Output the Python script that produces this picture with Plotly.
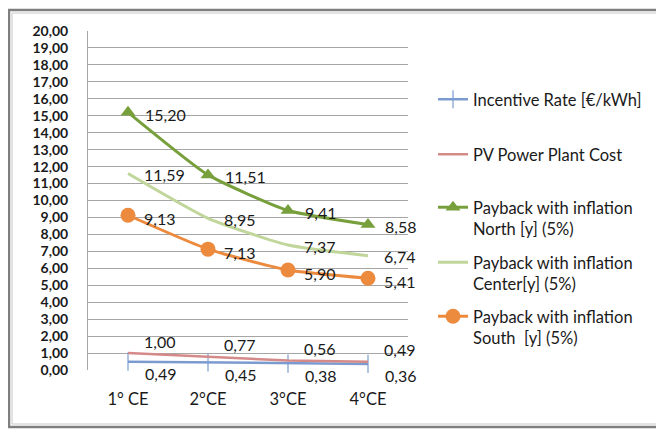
import plotly.graph_objects as go

categories = ["1° CE", "2°CE", "3°CE", "4°CE"]
incentive_rate = [0.49, 0.45, 0.38, 0.36]
pv_cost = [1.00, 0.77, 0.56, 0.49]
payback_north = [15.20, 11.51, 9.41, 8.58]
payback_center = [11.59, 8.95, 7.37, 6.74]
payback_south = [9.13, 7.13, 5.90, 5.41]
y_ticks = list(range(0, 21))

names = [
    "Incentive Rate [€/kWh]",
    "PV Power Plant Cost",
    "Payback with inflation<br>North [y] (5%)",
    "Payback with inflation<br>Center[y] (5%)",
    "Payback with inflation<br>South  [y] (5%)",
]

FONT = "Lato"
TXT = "#1a1a1a"
LBL = 16

series = [
    # values, name, legend, line, marker, label (xshift, yshift)
    (incentive_rate, names[0], "legend",
     dict(color="#7b9bd0", width=2.5),
     dict(symbol="line-ns", size=13, line=dict(color="#7b9bd0", width=1.2)), (15, -12)),
    (pv_cost, names[1], "legend2",
     dict(color="#d48a88", width=2.5), None, (14, 12)),
    (payback_north, names[2], "legend3",
     dict(color="#77a03c", width=3, shape="spline", smoothing=0.5),
     dict(symbol="triangle-up", size=13, color="#77a03c"), (15, -2)),
    (payback_center, names[3], "legend4",
     dict(color="#c0d69a", width=3, shape="spline", smoothing=0.5), None, (14, -1)),
    (payback_south, names[4], "legend5",
     dict(color="#ec8a3e", width=3, shape="spline", smoothing=0.5),
     dict(symbol="circle", size=15, color="#ec8a3e"), (14, -3)),
]

fig = go.Figure()
annotations = []
for vals, name, leg, line, marker, (dx, dy) in series:
    fig.add_trace(go.Scatter(
        x=categories, y=vals, name=name, legend=leg,
        mode="lines+markers" if marker else "lines",
        line=line, marker=marker, cliponaxis=False,
    ))
    for c, v in zip(categories, vals):
        annotations.append(dict(
            x=c, y=v, xref="x", yref="y", text=f"{v:.2f}".replace(".", ","),
            showarrow=False, xanchor="left", yanchor="middle",
            xshift=dx, yshift=dy,
            font=dict(family=FONT, size=LBL, color=TXT),
        ))

# page body has an 8px margin, so work in reference pixels shifted by 8
OFF = 8
W, H = 664 - OFF, 429 - OFF
PL, PR, PT, PB = 88, 408, 31, 370  # plot area in reference pixels
L, T = PL - OFF, PT - OFF
R, B = W - (PR - OFF), H - (PB - OFF)
pw, ph = PR - PL, PB - PT

def px2x(px):
    return (px - PL) / pw

def px2y(py):
    return (PB - py) / ph

legend_common = dict(
    x=px2x(433), xanchor="left", yanchor="top", valign="top",
    font=dict(family=FONT, size=16.5, color=TXT), bgcolor="rgba(0,0,0,0)",
    itemwidth=30, tracegroupgap=0,
)
legend_tops = [82, 137, 190, 245, 299]
layout_legends = {}
for i, top in enumerate(legend_tops):
    key = "legend" if i == 0 else f"legend{i+1}"
    layout_legends[key] = dict(legend_common, y=px2y(top))

fig.update_layout(
    width=W, height=H,
    margin=dict(l=L, r=R, t=T, b=B, autoexpand=False),
    paper_bgcolor="white", plot_bgcolor="white",
    separators=",.",
    showlegend=True,
    annotations=annotations,
    xaxis=dict(
        type="category", range=[-0.5, 3.5],
        showgrid=False, showline=False, zeroline=False, ticks="",
        tickfont=dict(family=FONT, size=16.5, color=TXT),
        ticklabelstandoff=17,
    ),
    yaxis=dict(
        range=[0, 20], tickvals=y_ticks, tickformat=".2f",
        showgrid=True, gridcolor="#a6a6a6", gridwidth=1,
        showline=True, linecolor="#a6a6a6", linewidth=1,
        zeroline=False, ticks="",
        tickfont=dict(family=FONT, size=14, color=TXT, weight="bold"),
        ticklabelstandoff=16,
    ),
    shapes=[
        dict(type="rect", xref="paper", yref="paper", layer="above",
             x0=px2x(9), x1=px2x(660), y0=px2y(427), y1=px2y(10),
             line=dict(color="#7f7f7f", width=2.5)),
        dict(type="rect", xref="paper", yref="paper", layer="above",
             x0=px2x(12), x1=px2x(657), y0=px2y(424), y1=px2y(13),
             line=dict(color="#c8c8c8", width=1)),
    ],
    **layout_legends,
)

fig.write_html("out.html")
